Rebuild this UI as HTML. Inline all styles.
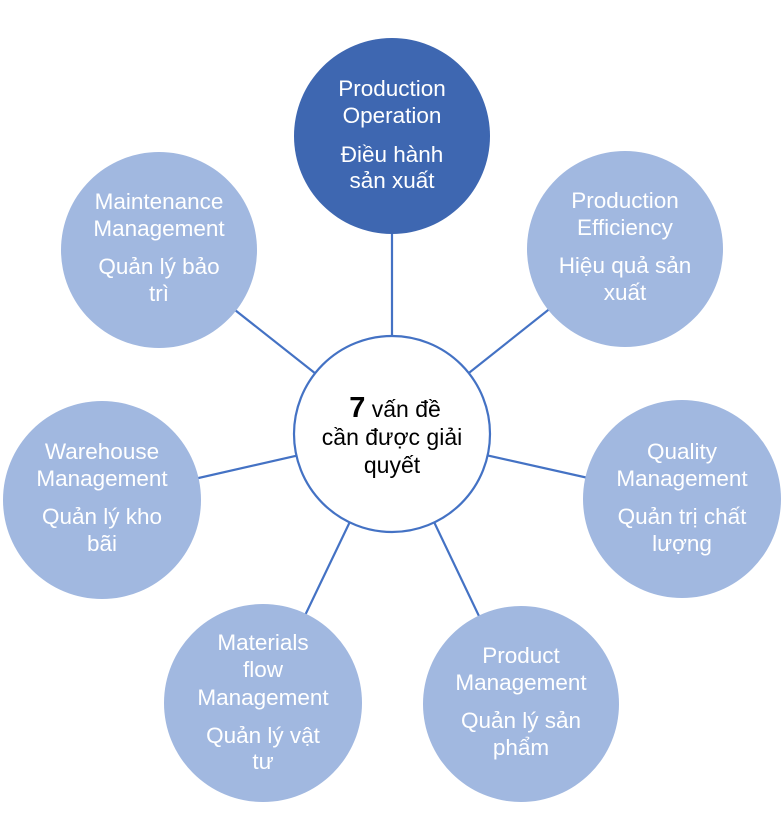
<!DOCTYPE html>
<html>
<head>
<meta charset="utf-8">
<style>
  html,body{margin:0;padding:0;background:#fff;}
  svg{display:block;}
  text{font-family:"Liberation Sans","DejaVu Sans",sans-serif;font-size:22.5px;text-anchor:middle;}
  .w{fill:#ffffff;}
  .k{fill:#000000;}
</style>
</head>
<body>
<svg width="784" height="839" viewBox="0 0 784 839" xmlns="http://www.w3.org/2000/svg">
  <!-- connectors -->
  <g stroke="#4472C4" stroke-width="2.2" fill="none">
    <line x1="392" y1="434" x2="392" y2="136"/>
    <line x1="392" y1="434" x2="159" y2="250"/>
    <line x1="392" y1="434" x2="625" y2="249"/>
    <line x1="392" y1="434" x2="102" y2="500"/>
    <line x1="392" y1="434" x2="682" y2="499"/>
    <line x1="392" y1="434" x2="263" y2="703"/>
    <line x1="392" y1="434" x2="521" y2="704"/>
  </g>

  <!-- outer circles -->
  <circle cx="392" cy="136" r="98" fill="#3E67B1"/>
  <circle cx="159" cy="250" r="98" fill="#A1B8E0"/>
  <circle cx="625" cy="249" r="98" fill="#A1B8E0"/>
  <circle cx="102" cy="500" r="99" fill="#A1B8E0"/>
  <circle cx="682" cy="499" r="99" fill="#A1B8E0"/>
  <circle cx="263" cy="703" r="99" fill="#A1B8E0"/>
  <circle cx="521" cy="704" r="98" fill="#A1B8E0"/>

  <!-- center circle -->
  <circle cx="392" cy="434" r="98" fill="#ffffff" stroke="#4472C4" stroke-width="2.2"/>

  <!-- top -->
  <text class="w" x="392" y="96">Production</text>
  <text class="w" x="392" y="123">Operation</text>
  <text class="w" x="392" y="162">Điều hành</text>
  <text class="w" x="392" y="188">sản xuất</text>

  <!-- maintenance -->
  <text class="w" x="159" y="209">Maintenance</text>
  <text class="w" x="159" y="236">Management</text>
  <text class="w" x="159" y="274">Quản lý bảo</text>
  <text class="w" x="159" y="301">trì</text>

  <!-- efficiency -->
  <text class="w" x="625" y="208">Production</text>
  <text class="w" x="625" y="235">Efficiency</text>
  <text class="w" x="625" y="273">Hiệu quả sản</text>
  <text class="w" x="625" y="300">xuất</text>

  <!-- warehouse -->
  <text class="w" x="102" y="459">Warehouse</text>
  <text class="w" x="102" y="486">Management</text>
  <text class="w" x="102" y="524">Quản lý kho</text>
  <text class="w" x="102" y="551">bãi</text>

  <!-- quality -->
  <text class="w" x="682" y="459">Quality</text>
  <text class="w" x="682" y="486">Management</text>
  <text class="w" x="682" y="524">Quản trị chất</text>
  <text class="w" x="682" y="551">lượng</text>

  <!-- materials -->
  <text class="w" x="263" y="650">Materials</text>
  <text class="w" x="263" y="677">flow</text>
  <text class="w" x="263" y="705">Management</text>
  <text class="w" x="263" y="743">Quản lý vật</text>
  <text class="w" x="263" y="769">tư</text>

  <!-- product -->
  <text class="w" x="521" y="663">Product</text>
  <text class="w" x="521" y="690">Management</text>
  <text class="w" x="521" y="728">Quản lý sản</text>
  <text class="w" x="521" y="755">phẩm</text>

  <!-- center text -->
  <text class="k" x="395" y="417" style="font-size:23px"><tspan style="font-weight:bold;font-size:29px">7</tspan> vấn đề</text>
  <text class="k" x="392" y="445" style="font-size:23px">cần được giải</text>
  <text class="k" x="392" y="473" style="font-size:23px">quyết</text>
</svg>
</body>
</html>
